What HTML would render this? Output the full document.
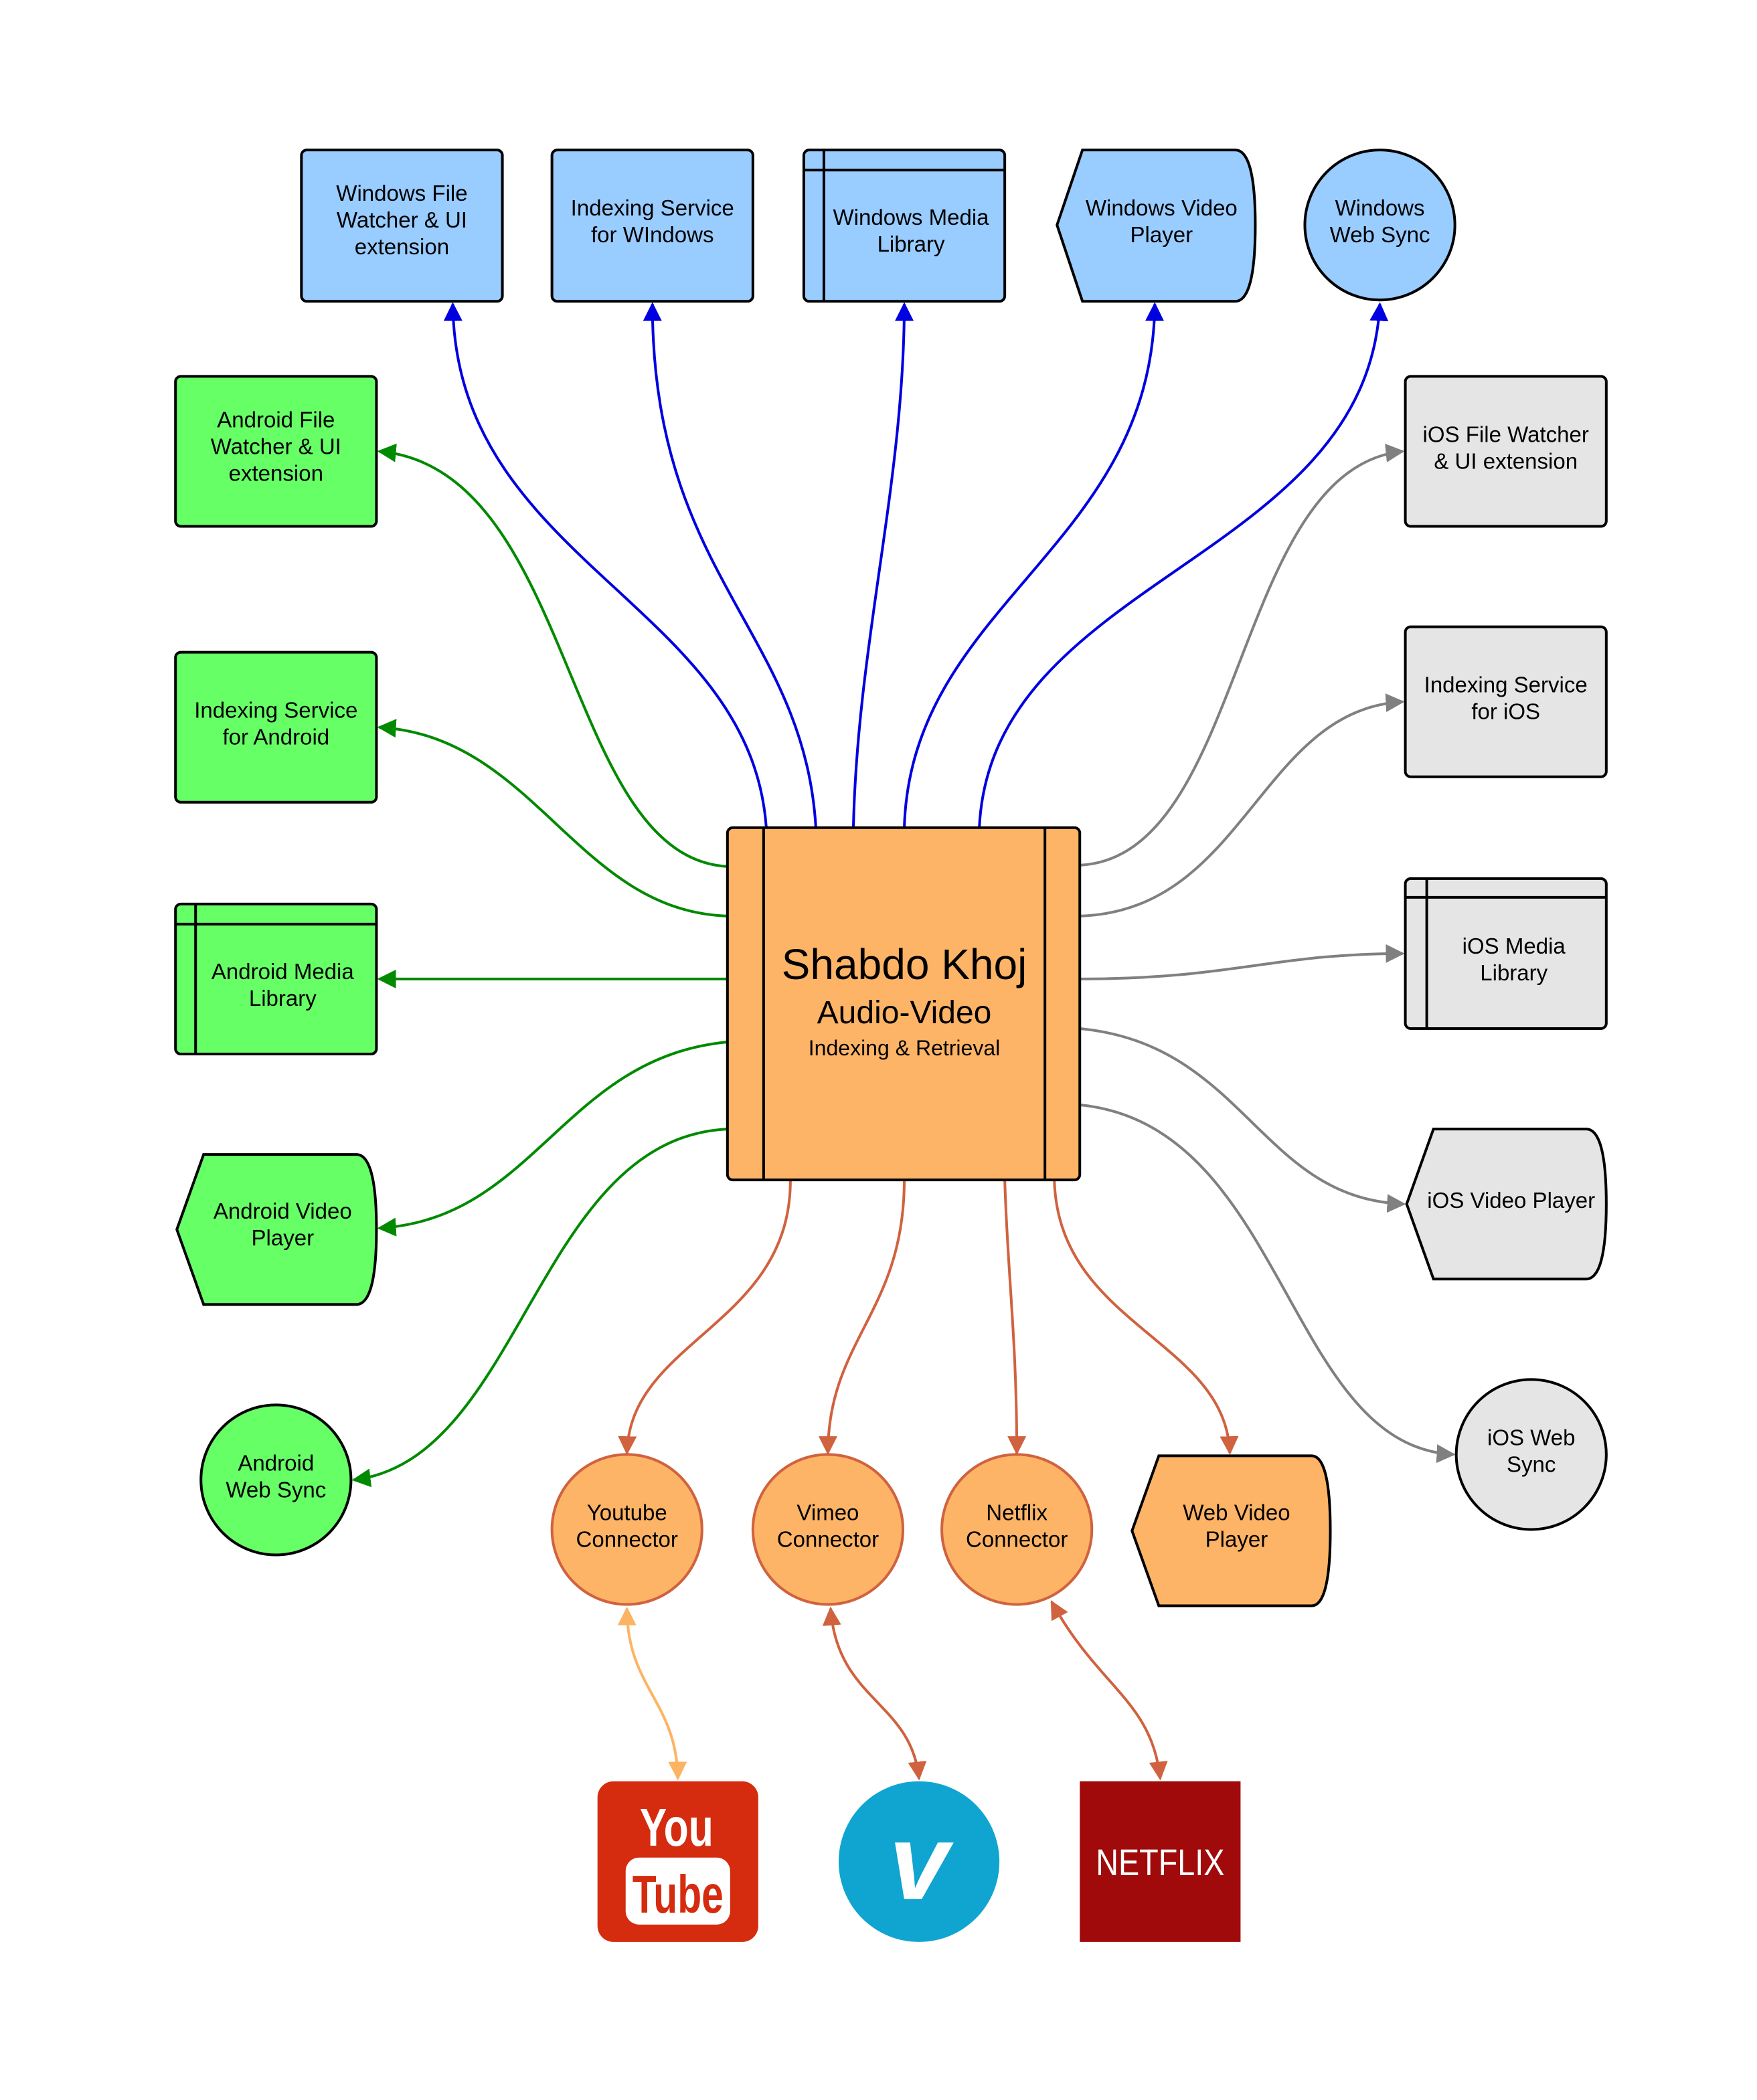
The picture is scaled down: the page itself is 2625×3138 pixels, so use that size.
<!DOCTYPE html>
<html><head><meta charset="utf-8"><style>html,body{margin:0;padding:0;background:#fff}svg{display:block}text{font-family:"Liberation Sans",Arial,sans-serif;fill:#000;text-anchor:middle}</style></head><body>
<svg width="2625" height="3138" viewBox="0 0 1311.5 1568" preserveAspectRatio="none" xmlns="http://www.w3.org/2000/svg">
<defs>
<marker id="ab" viewBox="0 0 10 10" refX="9" refY="5" markerWidth="7" markerHeight="7" orient="auto-start-reverse"><path d="M0,0L10,5L0,10z" fill="#0000e0"/></marker>
<marker id="ag" viewBox="0 0 10 10" refX="9" refY="5" markerWidth="7" markerHeight="7" orient="auto-start-reverse"><path d="M0,0L10,5L0,10z" fill="#008a00"/></marker>
<marker id="ay" viewBox="0 0 10 10" refX="9" refY="5" markerWidth="7" markerHeight="7" orient="auto-start-reverse"><path d="M0,0L10,5L0,10z" fill="#808080"/></marker>
<marker id="ao" viewBox="0 0 10 10" refX="9" refY="5" markerWidth="7" markerHeight="7" orient="auto-start-reverse"><path d="M0,0L10,5L0,10z" fill="#d0623f"/></marker>
<marker id="al" viewBox="0 0 10 10" refX="9" refY="5" markerWidth="7" markerHeight="7" orient="auto-start-reverse"><path d="M0,0L10,5L0,10z" fill="#fdb462"/></marker>
</defs>
<g fill="none" stroke-width="2">
<g stroke="#0000e0" marker-end="url(#ab)">
<path d="M572,618 C560,450 340,420 338,227"/>
<path d="M609,618 C600,470 487,430 487,227"/>
<path d="M637,618 C640,480 675,360 675,227"/>
<path d="M675,618 C680,450 860,410 862,227"/>
<path d="M731,618 C740,430 1020,420 1030,227"/>
</g>
<g stroke="#008a00" marker-end="url(#ag)">
<path d="M543,647 C420,640 430,350 283,337"/>
<path d="M543,684 C430,680 400,550 283,543"/>
<path d="M543,731 L283,731"/>
<path d="M543,778 C420,790 400,910 283,917"/>
<path d="M543,843 C400,850 390,1090 264,1105"/>
</g>
<g stroke="#808080" marker-end="url(#ay)">
<path d="M806,646 C930,640 920,350 1047,337"/>
<path d="M806,684 C930,680 940,530 1047,524"/>
<path d="M806,731 C920,731 950,712 1047,712"/>
<path d="M806,768 C930,780 940,895 1048,899"/>
<path d="M806,825 C960,840 960,1080 1085,1086"/>
</g>
<g stroke="#d0623f" marker-end="url(#ao)">
<path d="M590,881 C590,990 470,1000 468,1085"/>
<path d="M675,881 C675,980 618,1000 618,1085"/>
<path d="M750,881 C752,950 759,1000 759,1085"/>
<path d="M787,881 C790,990 915,1000 918,1085"/>
<path d="M620,1201 C625,1270 680,1270 686,1328" marker-start="url(#ao)"/>
<path d="M785,1196 C820,1260 860,1270 866,1328" marker-start="url(#ao)"/>
</g>
<path stroke="#fdb462" d="M468,1201 C468,1260 505,1270 506,1328" marker-start="url(#al)" marker-end="url(#al)"/>
</g>
<g stroke="#000" stroke-width="2">
<rect x="225" y="112" width="150" height="113" rx="4" fill="#99ccff"/>
<rect x="412" y="112" width="150" height="113" rx="4" fill="#99ccff"/>
<rect x="600" y="112" width="150" height="113" rx="4" fill="#99ccff"/>
<path d="M615,112V225M600,127H750"/>
<path d="M808,112H922Q937,112 937,168Q937,225 922,225H808L789,168Z" fill="#99ccff"/>
<circle cx="1030" cy="168" r="56" fill="#99ccff"/>
<rect x="131" y="281" width="150" height="112" rx="4" fill="#66ff66"/>
<rect x="131" y="487" width="150" height="112" rx="4" fill="#66ff66"/>
<rect x="131" y="675" width="150" height="112" rx="4" fill="#66ff66"/>
<path d="M146,675V787M131,690H281"/>
<path d="M152,862H266Q281,862 281,918Q281,974 266,974H152L132,918Z" fill="#66ff66"/>
<circle cx="206" cy="1105" r="56" fill="#66ff66"/>
<rect x="1049" y="281" width="150" height="112" rx="4" fill="#e5e5e5"/>
<rect x="1049" y="468" width="150" height="112" rx="4" fill="#e5e5e5"/>
<rect x="1049" y="656" width="150" height="112" rx="4" fill="#e5e5e5"/>
<path d="M1065,656V768M1049,670H1199"/>
<path d="M1070,843H1184Q1199,843 1199,899Q1199,955 1184,955H1070L1050,899Z" fill="#e5e5e5"/>
<circle cx="1143" cy="1086" r="56" fill="#e5e5e5"/>
<rect x="543" y="618" width="263" height="263" rx="4" fill="#fdb466"/>
<path d="M570,618V881M780,618V881"/>
<path d="M865,1087H979Q993,1087 993,1143Q993,1199 979,1199H865L845,1143Z" fill="#fdb466"/>
</g>
<g stroke="#d0623f" stroke-width="2" fill="#fdb466">
<circle cx="468" cy="1142" r="56"/><circle cx="618" cy="1142" r="56"/><circle cx="759" cy="1142" r="56"/>
</g>
<g font-size="16.5">
<text x="300" y="150">Windows File</text><text x="300" y="170">Watcher &amp; UI</text><text x="300" y="190">extension</text>
<text x="487" y="161">Indexing Service</text><text x="487" y="181">for WIndows</text>
<text x="680" y="168">Windows Media</text><text x="680" y="188">Library</text>
<text x="867" y="161">Windows Video</text><text x="867" y="181">Player</text>
<text x="1030" y="161">Windows</text><text x="1030" y="181">Web Sync</text>
<text x="206" y="319">Android File</text><text x="206" y="339">Watcher &amp; UI</text><text x="206" y="359">extension</text>
<text x="206" y="536">Indexing Service</text><text x="206" y="556">for Android</text>
<text x="211" y="731">Android Media</text><text x="211" y="751">Library</text>
<text x="211" y="910">Android Video</text><text x="211" y="930">Player</text>
<text x="206" y="1098">Android</text><text x="206" y="1118">Web Sync</text>
<text x="1124" y="330">iOS File Watcher</text><text x="1124" y="350">&amp; UI extension</text>
<text x="1124" y="517">Indexing Service</text><text x="1124" y="537">for iOS</text>
<text x="1130" y="712">iOS Media</text><text x="1130" y="732">Library</text>
<text x="1128" y="902">iOS Video Player</text>
<text x="1143" y="1079">iOS Web</text><text x="1143" y="1099">Sync</text>
<text x="468" y="1135">Youtube</text><text x="468" y="1155">Connector</text>
<text x="618" y="1135">Vimeo</text><text x="618" y="1155">Connector</text>
<text x="759" y="1135">Netflix</text><text x="759" y="1155">Connector</text>
<text x="923" y="1135">Web Video</text><text x="923" y="1155">Player</text>
</g>
<text x="675" y="731" font-size="32">Shabdo Khoj</text>
<text x="675" y="764" font-size="24">Audio-Video</text>
<text x="675" y="788" font-size="16">Indexing &amp; Retrieval</text>
<rect x="446" y="1330" width="120" height="120" rx="12" fill="#d52b0e"/>
<text x="505" y="1378" font-size="40" font-weight="bold" style="fill:#fff" textLength="55" lengthAdjust="spacingAndGlyphs">You</text>
<rect x="467" y="1387" width="78" height="50" rx="10" fill="#fff"/>
<text x="506" y="1428" font-size="40" font-weight="bold" style="fill:#d52b0e" textLength="68" lengthAdjust="spacingAndGlyphs">Tube</text>
<circle cx="686" cy="1390" r="60" fill="#0fa5d0"/>
<text x="686" y="1418" font-size="80" font-weight="bold" font-style="italic" style="fill:#fff">v</text>
<rect x="806" y="1330" width="120" height="120" fill="#a00a0b"/>
<text x="866" y="1400" font-size="28" style="fill:#fff" textLength="96" lengthAdjust="spacingAndGlyphs">NETFLIX</text>
</svg>
</body></html>
